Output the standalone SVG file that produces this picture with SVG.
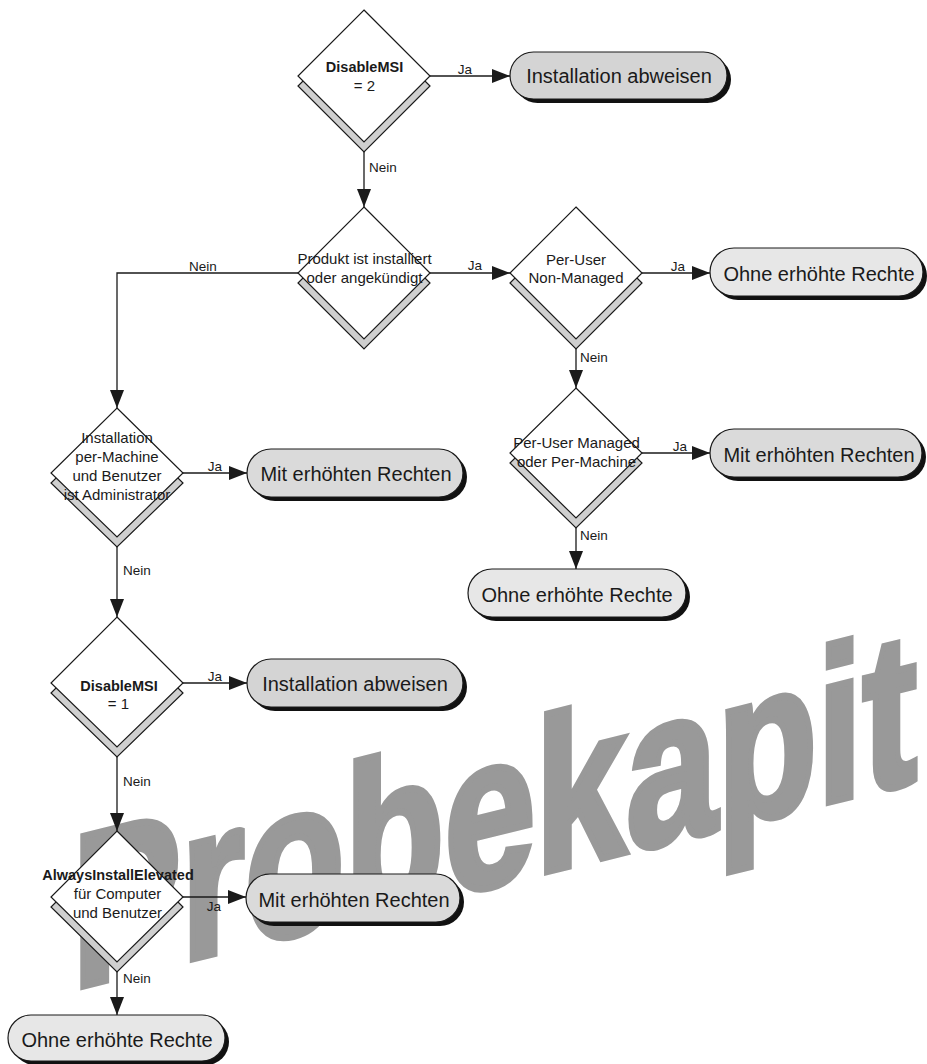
<svg xmlns="http://www.w3.org/2000/svg" width="927" height="1064" viewBox="0 0 927 1064">
<style>
.dia{fill:#ffffff;stroke:#1a1a1a;stroke-width:1.2}
.dsh{fill:#cfcfcf;stroke:#1a1a1a;stroke-width:1.2}
.pill{stroke:#1a1a1a;stroke-width:1.2}
.psh{fill:#111111}
.rej{fill:#d4d4d4}
.mit{fill:#dadada}
.ohne{fill:#e7e7e7}
.t{font-family:"Liberation Sans",Arial,sans-serif;fill:#1a1a1a}
.dt{font-size:15px;text-anchor:middle}
.db{font-size:14.5px;font-weight:bold;text-anchor:middle}
.pt{font-size:20px;text-anchor:middle}
.lb{font-size:13.5px}
.con{fill:none;stroke:#1a1a1a;stroke-width:1.3}
.wm{font-family:"Liberation Sans",Arial,sans-serif;font-weight:bold;font-size:218px;fill:#999999;stroke:#999999;stroke-width:7;stroke-linejoin:miter}
</style>
<defs>
<marker id="arr" markerUnits="userSpaceOnUse" markerWidth="18" markerHeight="14" refX="18" refY="7" orient="auto">
<path d="M0,0 L18,7 L0,14 z" fill="#1a1a1a"/>
</marker>
</defs>
<rect width="927" height="1064" fill="#ffffff"/>
<g id="watermark">
<text class="wm" transform="matrix(0.75,-0.185,0,1,72,989)">Probekapit</text>
</g>
<g id="connectors">
<path class="con" d="M430,76 H510" marker-end="url(#arr)"/>
<path class="con" d="M364,152 V207" marker-end="url(#arr)"/>
<path class="con" d="M430,273 H510" marker-end="url(#arr)"/>
<path class="con" d="M298,273 H117 V408" marker-end="url(#arr)"/>
<path class="con" d="M642,273 H710" marker-end="url(#arr)"/>
<path class="con" d="M576,349 V388" marker-end="url(#arr)"/>
<path class="con" d="M642,453 H710" marker-end="url(#arr)"/>
<path class="con" d="M576,528 V569" marker-end="url(#arr)"/>
<path class="con" d="M183,473 H247" marker-end="url(#arr)"/>
<path class="con" d="M117,546 V617" marker-end="url(#arr)"/>
<path class="con" d="M183,683 H247" marker-end="url(#arr)"/>
<path class="con" d="M117,756 V831" marker-end="url(#arr)"/>
<path class="con" d="M183,897 H246" marker-end="url(#arr)"/>
<path class="con" d="M117,972 V1015" marker-end="url(#arr)"/>
<text class="t lb" x="465" y="74" text-anchor="middle">Ja</text>
<text class="t lb" x="369" y="172">Nein</text>
<text class="t lb" x="475" y="270" text-anchor="middle">Ja</text>
<text class="t lb" x="203" y="271" text-anchor="middle">Nein</text>
<text class="t lb" x="678" y="271" text-anchor="middle">Ja</text>
<text class="t lb" x="580" y="362">Nein</text>
<text class="t lb" x="680" y="451" text-anchor="middle">Ja</text>
<text class="t lb" x="580" y="540">Nein</text>
<text class="t lb" x="215" y="471" text-anchor="middle">Ja</text>
<text class="t lb" x="123" y="575">Nein</text>
<text class="t lb" x="215" y="681" text-anchor="middle">Ja</text>
<text class="t lb" x="123" y="786">Nein</text>
<text class="t lb" x="214" y="911" text-anchor="middle">Ja</text>
<text class="t lb" x="123" y="983">Nein</text>
</g>
<g id="d1">
<polygon class="dsh" points="364,20 430,86 364,152 298,86"/>
<polygon class="dia" points="364,10 430,76 364,142 298,76"/>
<text class="t db" x="364.5" y="72">DisableMSI</text>
<text class="t dt" x="364.5" y="91">= 2</text>
</g>
<g id="p1">
<rect class="psh" x="514" y="56" width="217" height="47" rx="23.5"/>
<rect class="pill rej" x="510" y="52" width="217" height="47" rx="23.5"/>
<text class="t pt" x="619" y="83">Installation abweisen</text>
</g>
<g id="d2">
<polygon class="dsh" points="364,217 430,283 364,349 298,283"/>
<polygon class="dia" points="364,207 430,273 364,339 298,273"/>
<text class="t dt" x="364.5" y="264">Produkt ist installiert</text>
<text class="t dt" x="364.5" y="282.5">oder angekündigt</text>
</g>
<g id="d3">
<polygon class="dsh" points="576,217 642,283 576,349 510,283"/>
<polygon class="dia" points="576,207 642,273 576,339 510,273"/>
<text class="t dt" x="576" y="264.5">Per-User</text>
<text class="t dt" x="576" y="283">Non-Managed</text>
</g>
<g id="p2">
<rect class="psh" x="714" y="252" width="213" height="48" rx="24"/>
<rect class="pill ohne" x="710" y="248" width="213" height="48" rx="24"/>
<text class="t pt" x="819" y="280.5">Ohne erhöhte Rechte</text>
</g>
<g id="d5">
<polygon class="dsh" points="576,398 642,463 576,528 510,463"/>
<polygon class="dia" points="576,388 642,453 576,518 510,453"/>
<text class="t dt" x="576.5" y="448">Per-User Managed</text>
<text class="t dt" x="576.5" y="467">oder Per-Machine</text>
</g>
<g id="p3">
<rect class="psh" x="714" y="433" width="212" height="48" rx="24"/>
<rect class="pill mit" x="710" y="429" width="212" height="48" rx="24"/>
<text class="t pt" x="819" y="462">Mit erhöhten Rechten</text>
</g>
<g id="p4">
<rect class="psh" x="472" y="573" width="218" height="48" rx="24"/>
<rect class="pill ohne" x="468" y="569" width="218" height="48" rx="24"/>
<text class="t pt" x="577" y="602">Ohne erhöhte Rechte</text>
</g>
<g id="d4">
<polygon class="dsh" points="117,418 183,483 117,547 51,483"/>
<polygon class="dia" points="117,408 183,473 117,537 51,473"/>
<text class="t dt" x="117" y="443">Installation</text>
<text class="t dt" x="117" y="462">per-Machine</text>
<text class="t dt" x="117" y="481">und Benutzer</text>
<text class="t dt" x="117" y="499.5">ist Administrator</text>
</g>
<g id="p5">
<rect class="psh" x="251" y="453" width="216" height="48" rx="24"/>
<rect class="pill mit" x="247" y="449" width="216" height="48" rx="24"/>
<text class="t pt" x="356" y="481">Mit erhöhten Rechten</text>
</g>
<g id="d6">
<polygon class="dsh" points="117,627 183,693 117,757 51,693"/>
<polygon class="dia" points="117,617 183,683 117,747 51,683"/>
<text class="t db" x="119" y="691">DisableMSI</text>
<text class="t dt" x="118.5" y="709">= 1</text>
</g>
<g id="p6">
<rect class="psh" x="251" y="663" width="216" height="48" rx="24"/>
<rect class="pill rej" x="247" y="659" width="216" height="48" rx="24"/>
<text class="t pt" x="355" y="691">Installation abweisen</text>
</g>
<g id="d7">
<polygon class="dsh" points="117,841 183,907 117,972 51,907"/>
<polygon class="dia" points="117,831 183,897 117,962 51,897"/>
<text class="t db" x="118" y="880">AlwaysInstallElevated</text>
<text class="t dt" x="117.5" y="899">für Computer</text>
<text class="t dt" x="117.5" y="918">und Benutzer</text>
</g>
<g id="p7">
<rect class="psh" x="250" y="878" width="214" height="48" rx="24"/>
<rect class="pill mit" x="246" y="874" width="214" height="48" rx="24"/>
<text class="t pt" x="354" y="907">Mit erhöhten Rechten</text>
</g>
<g id="p8">
<rect class="psh" x="12" y="1019" width="217" height="46" rx="23"/>
<rect class="pill ohne" x="8" y="1015" width="217" height="46" rx="23"/>
<text class="t pt" x="117" y="1047">Ohne erhöhte Rechte</text>
</g>
</svg>
